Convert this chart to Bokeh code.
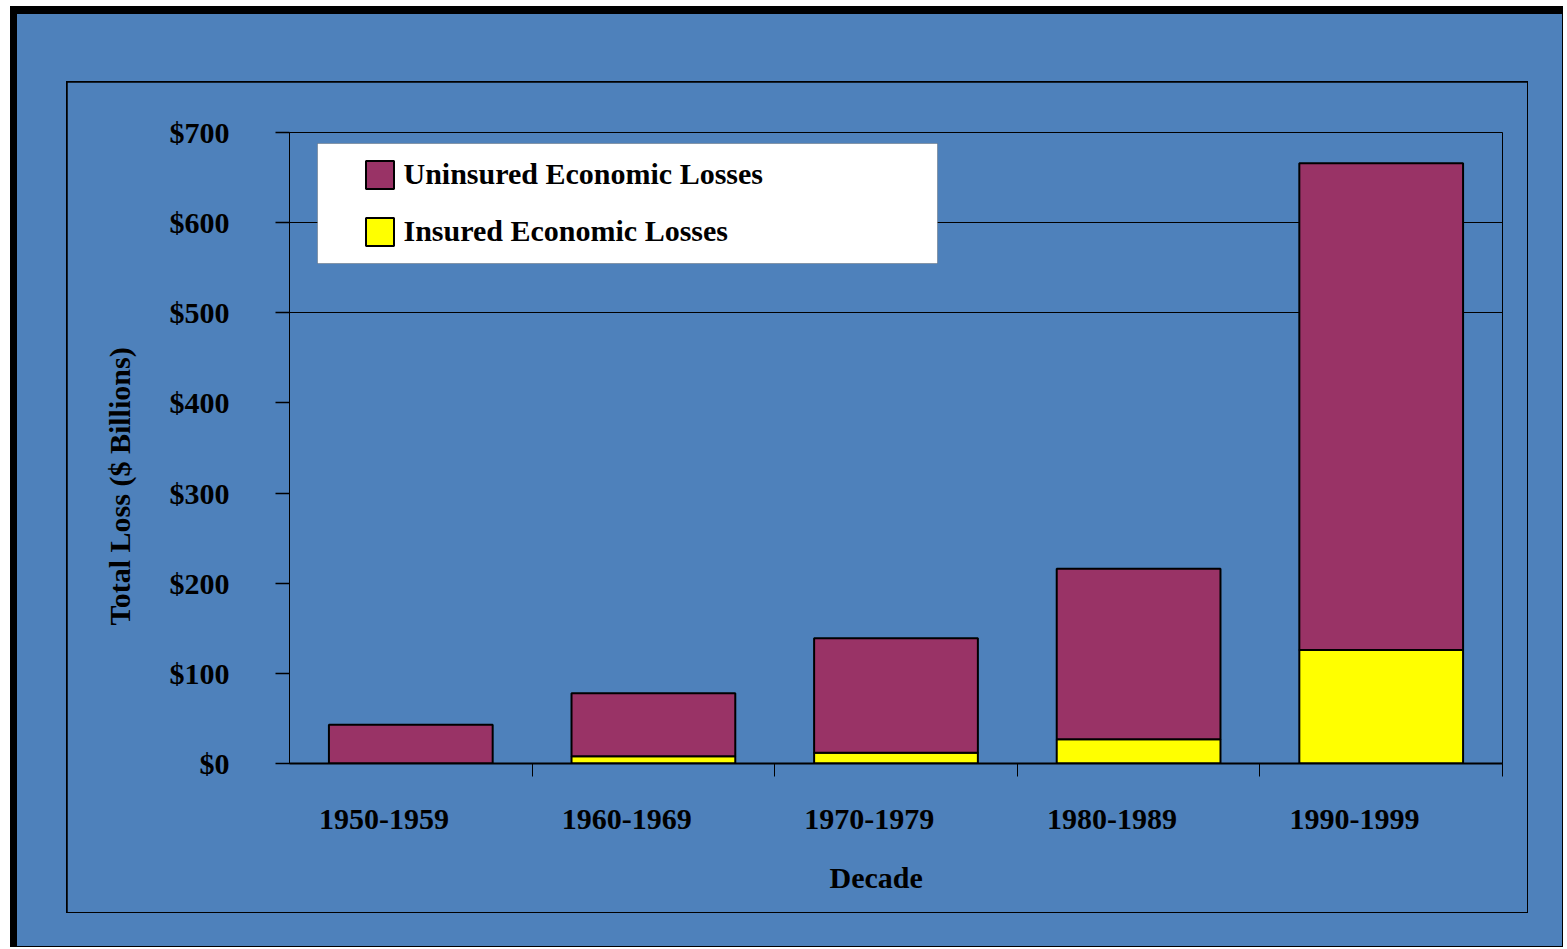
from bokeh.embed import file_html
from bokeh.layouts import column
from bokeh.models import (BoxAnnotation, ColumnDataSource, FixedTicker, Legend,
                          LegendItem, Range1d, Title)
from bokeh.plotting import figure
from bokeh.resources import INLINE

# Losses by decade, $ billions
decades = ["1950-1959", "1960-1969", "1970-1979", "1980-1989", "1990-1999"]
insured = [0, 8, 12, 27, 126]
uninsured = [43, 70, 127, 189, 540]

y_ticks = [0, 100, 200, 300, 400, 500, 600, 700]
y_tick_labels = ["$0", "$100", "$200", "$300", "$400", "$500", "$600", "$700"]
grid_ticks = [500, 600]

BLUE = "#4E81BB"
PLUM = "#993366"
YELLOW = "#FFFF00"
FONT = "Liberation Serif"

LABEL_SHIFT = 0.11  # decade labels sit a little left of the bar centres

centers = [i + 0.5 for i in range(len(decades))]
label_pos = [c - LABEL_SHIFT for c in centers]
boundaries = [float(i) for i in range(1, len(decades) + 1)]

source = ColumnDataSource(dict(x=centers, insured=insured, uninsured=uninsured))

# chart area inside the thin frame
p = figure(width=1460, height=830, output_backend="svg", toolbar_location=None,
           x_range=Range1d(0, len(decades)), y_range=Range1d(0, 700),
           min_border_left=222, min_border_right=25,
           min_border_top=50, min_border_bottom=149, margin=(1, 1, 1, 1))

p.border_fill_color = BLUE
p.background_fill_color = BLUE
p.outline_line_color = "black"
p.outline_line_width = 1

# gridlines
p.xgrid.visible = False
p.ygrid.ticker = FixedTicker(ticks=grid_ticks)
p.ygrid.grid_line_color = "black"
p.ygrid.grid_line_width = 1

# stacked bars
r_ins, r_unins = p.vbar_stack(["insured", "uninsured"], x="x", width=0.675,
                              source=source, fill_color=[YELLOW, PLUM],
                              line_color="black", line_width=2)

# y axis
p.yaxis.ticker = FixedTicker(ticks=y_ticks)
p.yaxis.major_label_overrides = {t: s for t, s in zip(y_ticks, y_tick_labels)}
p.yaxis.major_tick_out = 14
p.yaxis.major_tick_in = 0
p.yaxis.minor_tick_out = 0
p.yaxis.minor_tick_in = 0
p.yaxis.major_label_standoff = 46
p.yaxis.axis_line_color = "black"
p.yaxis.axis_line_width = 1
p.yaxis.major_tick_line_color = "black"
p.yaxis.major_tick_line_width = 1.5
p.yaxis.major_label_text_font = FONT
p.yaxis.major_label_text_font_style = "bold"
p.yaxis.major_label_text_font_size = "30px"
p.yaxis.major_label_text_color = "black"

# x axis: labels per decade, short marks between decades
p.xaxis.ticker = FixedTicker(ticks=label_pos, minor_ticks=boundaries)
p.xaxis.major_label_overrides = {t: s for t, s in zip(label_pos, decades)}
p.xaxis.major_tick_out = 0
p.xaxis.major_tick_in = 0
p.xaxis.minor_tick_out = 13
p.xaxis.minor_tick_in = 0
p.xaxis.minor_tick_line_color = "black"
p.xaxis.minor_tick_line_width = 1
p.xaxis.major_label_standoff = 33
p.xaxis.axis_line_color = "black"
p.xaxis.axis_line_width = 2
p.xaxis.major_label_text_font = FONT
p.xaxis.major_label_text_font_style = "bold"
p.xaxis.major_label_text_font_size = "30px"
p.xaxis.major_label_text_color = "black"

# axis titles
title_style = dict(text_font=FONT, text_font_style="bold",
                   text_font_size="30px", text_color="black", align="left")
# small gap between the decade labels and the x title
p.add_layout(Title(text=" ", text_font_size="1px", standoff=24), "below")
p.add_layout(Title(text="Decade", offset=540, standoff=0, **title_style), "below")
p.add_layout(Title(text="Total Loss ($ Billions)", offset=138, standoff=61,
                   **title_style), "left")

# legend panel
p.add_layout(BoxAnnotation(left=250, right=870, top=61, bottom=181,
                           left_units="canvas", right_units="canvas",
                           top_units="canvas", bottom_units="canvas",
                           fill_color="white", fill_alpha=1,
                           line_color="#333333", line_width=1,
                           line_dash="solid"))
legend = Legend(items=[LegendItem(label="Uninsured Economic Losses", renderers=[r_unins]),
                       LegendItem(label="Insured Economic Losses", renderers=[r_ins])],
                location=(72.5, 514.5), padding=0, margin=0, spacing=22,
                glyph_width=35, glyph_height=35, label_height=35,
                label_standoff=7, background_fill_alpha=0, border_line_alpha=0,
                label_text_font=FONT, label_text_font_style="bold",
                label_text_font_size="30px", label_text_color="black")
p.add_layout(legend)

# thin black frame, blue panel, heavy black edge on white page
frame_box = column(p, margin=(67, 34, 33, 49), styles={"background-color": "black"})
panel = column(frame_box, margin=(8, 1, 1, 7), styles={"background-color": BLUE})
page = column(panel, margin=(6, 0, 0, 10), styles={"background-color": "black"})

open("out.html", "w").write(file_html(page, INLINE))
